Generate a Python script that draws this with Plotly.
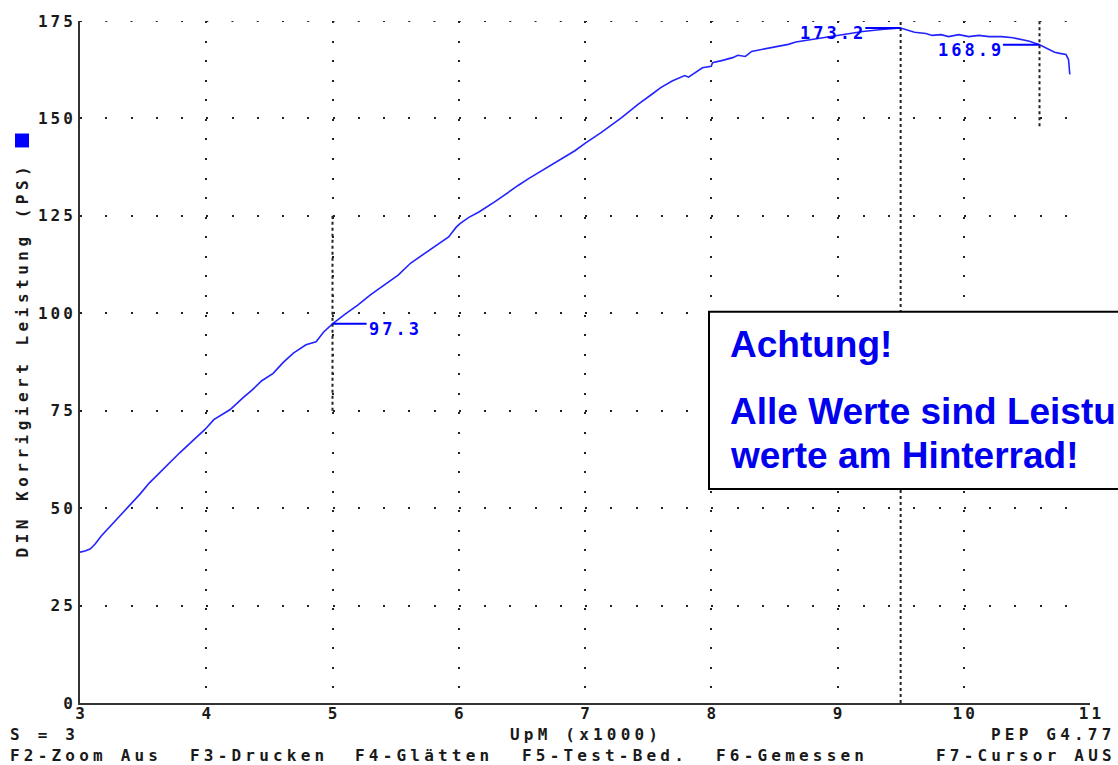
import plotly.graph_objects as go

# dyno run: corrected power (PS) over engine speed (x1000 rpm)
rpm = [3.00, 3.04, 3.08, 3.12, 3.17, 3.25, 3.33, 3.40, 3.475, 3.55, 3.67, 3.79, 3.90, 3.99,
       4.06, 4.19, 4.29, 4.36, 4.44, 4.53, 4.61, 4.69, 4.79, 4.87, 4.93, 5.00, 5.10, 5.20,
       5.30, 5.39, 5.52, 5.62, 5.71, 5.81, 5.92, 5.98, 6.01, 6.08, 6.16, 6.29, 6.39, 6.47,
       6.55, 6.68, 6.84, 6.92, 7.00, 7.13, 7.29, 7.42, 7.53, 7.60, 7.69, 7.79, 7.82, 7.85,
       7.93, 8.00, 8.01, 8.09, 8.17, 8.21, 8.27, 8.32, 8.40, 8.51, 8.56, 8.61, 8.67, 8.80,
       9.00, 9.20, 9.35, 9.50, 9.61, 9.70, 9.75, 9.82, 9.88, 9.96, 10.04, 10.12, 10.20,
       10.30, 10.39, 10.46, 10.52, 10.60, 10.68, 10.72, 10.76, 10.81, 10.83, 10.84]
power = [38.7, 39.0, 39.5, 40.8, 42.9, 45.7, 48.5, 51.0, 53.6, 56.5, 60.4, 64.2, 67.5, 70.2,
         72.7, 75.3, 78.3, 80.2, 82.7, 84.6, 87.4, 89.8, 91.9, 92.7, 95.2, 97.3, 99.8, 102.1,
         104.7, 106.8, 109.8, 112.9, 114.9, 117.0, 119.6, 122.1, 123.0, 124.6, 126.0, 128.7,
         131.1, 132.8, 134.5, 137.0, 140.0, 141.7, 143.6, 146.4, 150.2, 153.6, 156.2, 157.9,
         159.6, 161.0, 160.6, 161.3, 163.0, 163.4, 164.3, 164.9, 165.6, 166.2, 165.9, 167.2,
         167.7, 168.3, 168.8, 169.0, 169.6, 170.3, 171.4, 172.3, 172.8, 173.2, 172.1, 171.8,
         171.3, 171.5, 171.0, 171.5, 171.0, 171.3, 171.0, 171.0, 170.7, 170.3, 169.8, 168.9,
         167.7, 167.0, 166.7, 166.4, 165.1, 161.3]

# cursors: x position, value shown, vertical extent, start of the label tick
cursor_x = [5.0, 9.5, 10.6]
cursor_val = [97.3, 173.2, 168.9]
cursor_y0 = [75, 0, 148]
cursor_y1 = [125, 175, 175]
cursor_tail = [5.27, 9.22, 10.31]

x_ticks = [3, 4, 5, 6, 7, 8, 9, 10, 11]
y_ticks = [0, 25, 50, 75, 100, 125, 150, 175]

MONO = "DejaVu Sans Mono"
BLUE = "#0000ff"
INK = "#1a1a1a"

L, R, T, B = 80, 28, 18, 62
W, H = 1118, 765
PW, PH = W - L - R, H - T - B


def spaced(s, ls):
    # letter spacing between chars (not after the last one)
    if len(s) < 2:
        return s
    return f"<span style='letter-spacing:{ls}px'>{s[:-1]}</span>{s[-1]}"


def px_x(p):
    return (p - L) / PW


def px_y(p):
    return (H - B - p) / PH


fig = go.Figure()
fig.add_trace(go.Scatter(x=rpm, y=power, mode="lines",
                         line=dict(color="#2323ff", width=1.6), hoverinfo="skip"))

shapes = []
annotations = []

# top row of grid dots (plotly drops the gridline at the range edge)
shapes.append(dict(type="line", xref="x", yref="y", x0=3, x1=11, y0=175, y1=175, layer="below",
                   line=dict(color="#222", width=2, dash="2px,23.25px")))

for cx, cv, y0, y1, tail in zip(cursor_x, cursor_val, cursor_y0, cursor_y1, cursor_tail):
    shapes.append(dict(type="line", xref="x", yref="y", x0=cx, x1=cx, y0=y0, y1=y1,
                       line=dict(color="#222", width=2, dash="3px,3px")))
    shapes.append(dict(type="line", xref="x", yref="y", x0=tail, x1=cx, y0=cv, y1=cv,
                       line=dict(color=BLUE, width=2)))
    right = tail < cx
    annotations.append(dict(x=tail, y=cv - 1.4, xref="x", yref="y", showarrow=False,
                            xanchor="right" if right else "left", yanchor="middle",
                            text=spaced(f"{cv:.1f}", 3),
                            font=dict(family=MONO, size=17, color=BLUE, weight="bold")))

# warning box
shapes.append(dict(type="rect", xref="paper", yref="paper", layer="above",
                   x0=px_x(709), x1=px_x(1160), y0=px_y(488), y1=px_y(310),
                   fillcolor="white", line=dict(color="black", width=2)))
box_lines = [("Achtung!", 343), ("Alle Werte sind Leistungs-", 410), ("werte am Hinterrad!", 454)]
for txt, py in box_lines:
    annotations.append(dict(x=px_x(728), y=px_y(py), xref="paper", yref="paper",
                            showarrow=False, xanchor="left", yanchor="middle", text=txt,
                            font=dict(family="Liberation Sans", size=37, color="#0000ee",
                                      weight="bold")))

# blue marker square left of y axis
shapes.append(dict(type="rect", xref="paper", yref="paper", x0=px_x(15), x1=px_x(29),
                   y0=px_y(145), y1=px_y(131), fillcolor=BLUE, line=dict(width=0)))

annotations.append(dict(x=px_x(21.5), y=0.5, xref="paper", yref="paper", showarrow=False,
                        textangle=-90, xanchor="center", yanchor="middle",
                        text=spaced("DIN Korrigiert Leistung (PS)", 4.5),
                        font=dict(family=MONO, size=16, color=INK, weight="bold")))

footer = [
    ("S = 3", 8, 735, "left"),
    ("UpM (x1000)", 508, 735, "left"),
    ("PEP G4.77", 1113, 735, "right"),
    ("F2-Zoom Aus", 8, 756, "left"),
    ("F3-Drucken", 188, 756, "left"),
    ("F4-Glätten", 353, 756, "left"),
    ("F5-Test-Bed.", 520, 756, "left"),
    ("F6-Gemessen", 714, 756, "left"),
    ("F7-Cursor AUS", 1114, 756, "right"),
]
for txt, px, py, anchor in footer:
    annotations.append(dict(x=px_x(px), y=px_y(py), xref="paper", yref="paper",
                            showarrow=False, xanchor=anchor, yanchor="middle",
                            text=spaced(txt, 4.2),
                            font=dict(family=MONO, size=16, color=INK, weight="bold")))

tick_font = dict(family=MONO, size=16, color=INK, weight="bold")
fig.update_layout(
    width=W, height=H,
    margin=dict(l=L, r=R, t=T, b=B, pad=0),
    plot_bgcolor="white", paper_bgcolor="white",
    showlegend=False, hovermode=False,
    shapes=shapes, annotations=annotations,
    xaxis=dict(range=[3, 11], tickvals=x_ticks,
               ticktext=[spaced(str(v), 3) for v in x_ticks],
               tickfont=tick_font, showline=True, linecolor="#333", linewidth=2,
               showgrid=True, gridcolor="#222", gridwidth=2, griddash="2px,17.57px",
               zeroline=False, ticks="", ticklabelstandoff=-5, fixedrange=True),
    yaxis=dict(range=[0, 175], tickvals=y_ticks,
               ticktext=[spaced(str(v), 3) for v in y_ticks],
               tickfont=tick_font, showline=True, linecolor="#333", linewidth=2,
               showgrid=True, gridcolor="#222", gridwidth=2, griddash="2px,23.25px",
               zeroline=False, ticks="", ticklabelstandoff=2, fixedrange=True),
)

fig.write_html("out.html", config={"displayModeBar": False},
               post_script="document.body.style.margin='0';document.body.style.overflow='hidden';")
